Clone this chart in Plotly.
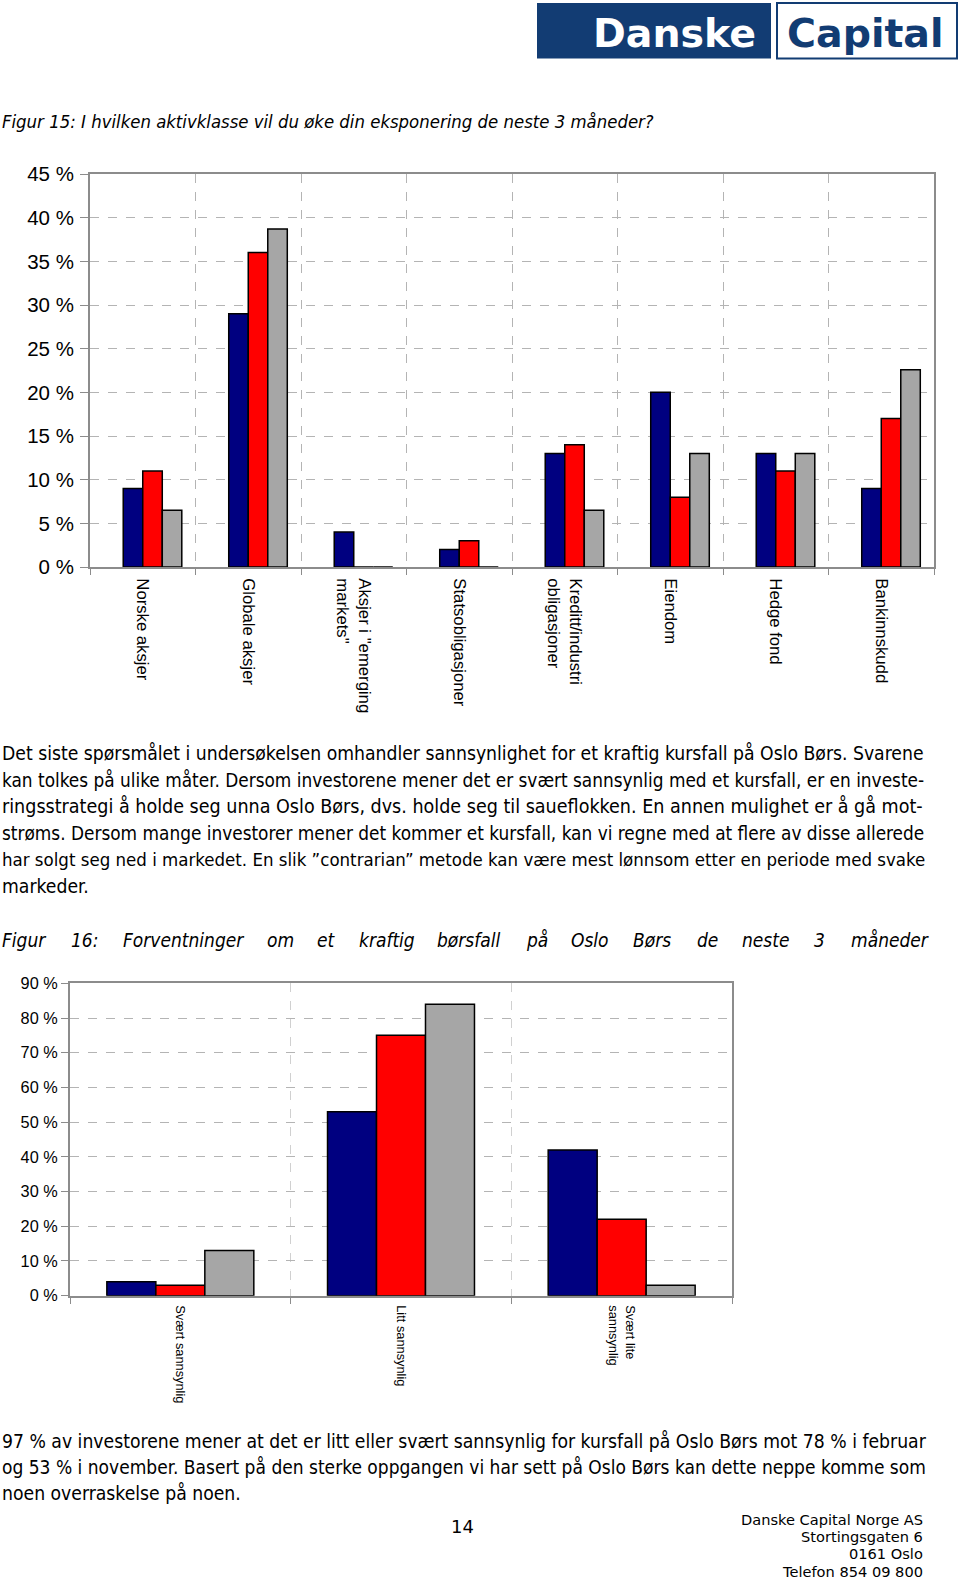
import plotly.graph_objects as go

W, H = 960, 1579

# ---------------- data ----------------
cat1 = ["Norske aksjer", "Globale aksjer", "Aksjer i \"emerging<br>markets\"", "Statsobligasjoner",
        "Kreditt/industri<br>obligasjoner", "Eiendom", "Hedge fond", "Bankinnskudd"]
c1_blue = [9, 29, 4, 2, 13, 20, 13, 9]
c1_red = [11, 36, 0, 3, 14, 8, 11, 17]
c1_grey = [6.5, 38.7, 0, 0, 6.5, 13, 13, 22.6]
y1_ticks = [0, 5, 10, 15, 20, 25, 30, 35, 40, 45]

cat2 = ["Svært sannsynlig", "Litt sannsynlig", "Svært lite<br>sannsynlig"]
c2_blue = [4, 53, 42]
c2_red = [3, 75, 22]
c2_grey = [13, 84, 3]
y2_ticks = [0, 10, 20, 30, 40, 50, 60, 70, 80, 90]

NAVY = "#000080"
RED = "#FF0000"
GREY = "#A6A6A6"

def py(y):
    return 1 - y / H

def px(x):
    return x / W

fig = go.Figure()

w1 = 0.185
for vals, col, off in [(c1_blue, NAVY, -w1), (c1_red, RED, 0), (c1_grey, GREY, w1)]:
    fig.add_trace(go.Bar(x=cat1, y=vals, marker=dict(color=col, line=dict(color="black", width=1.5)),
                         width=w1, offset=off, xaxis="x", yaxis="y", showlegend=False))

w2 = 0.222
for vals, col, off in [(c2_blue, NAVY, -1.5 * w2), (c2_red, RED, -0.5 * w2), (c2_grey, GREY, 0.5 * w2)]:
    fig.add_trace(go.Bar(x=cat2, y=vals, marker=dict(color=col, line=dict(color="black", width=1.5)),
                         width=w2, offset=off, xaxis="x2", yaxis="y2", showlegend=False))

axis_common = dict(showline=True, linecolor="#8C8C8C", linewidth=2, mirror=True,
                   gridcolor="#B4B4B4", griddash="dash", gridwidth=1, zeroline=False,
                   automargin=False)

fig.update_layout(
    template="none",
    width=W, height=H, autosize=False,
    margin=dict(l=0, r=0, t=0, b=0, pad=0),
    paper_bgcolor="white", plot_bgcolor="white",
    showlegend=False,
    font=dict(family="Liberation Sans, Arial, sans-serif", color="black"),
    xaxis=dict(domain=[px(90), px(934)], anchor="y", type="category", tickson="boundaries",
               tickangle=90, ticks="outside", ticklen=6, tickcolor="#8C8C8C",
               ticklabelstandoff=6,
               tickfont=dict(size=16.7), showgrid=True, **axis_common),
    yaxis=dict(domain=[py(567), py(174)], anchor="x", range=[0, 45], tickvals=y1_ticks,
               ticktext=[f"{v} %" for v in y1_ticks], ticks="outside", ticklen=8,
               ticklabelstandoff=2,
               tickcolor="#8C8C8C", tickfont=dict(size=20.5), showgrid=True, **axis_common),
    xaxis2=dict(domain=[px(70), px(732)], anchor="y2", type="category", tickson="boundaries",
                tickangle=90, ticks="outside", ticklen=6, tickcolor="#8C8C8C",
                ticklabelstandoff=5,
                tickfont=dict(size=12.8), showgrid=True, **axis_common),
    yaxis2=dict(domain=[py(1295.7), py(983.3)], anchor="x2", range=[0, 90], tickvals=y2_ticks,
                ticktext=[f"{v} %" for v in y2_ticks], ticks="outside", ticklen=7,
                ticklabelstandoff=0,
                tickcolor="#8C8C8C", tickfont=dict(size=16.3), showgrid=True, **axis_common),
)
fig.update_layout(xaxis2_gridcolor="#D0D0D0")

# ---------------- logo ----------------
LOGO = "#123C73"
fig.add_shape(type="rect", xref="paper", yref="paper", x0=px(537), x1=px(771), y0=py(58.5), y1=py(3),
              fillcolor=LOGO, line=dict(width=0), layer="above")
fig.add_shape(type="rect", xref="paper", yref="paper", x0=px(777), x1=px(957), y0=py(58.5), y1=py(3),
              fillcolor="white", line=dict(color=LOGO, width=2), layer="above")

annos = []
BODY = "Liberation Sans Narrow, DejaVu Sans Condensed, Arial Narrow, sans-serif"
def txt(x, y, s, size, color="black", xanchor="left", family=BODY, italic=False, weight=None):
    f = dict(size=size, color=color, family=family)
    if italic:
        f["style"] = "italic"
    if weight:
        f["weight"] = weight
    annos.append(dict(x=px(x), y=py(y), xref="paper", yref="paper", text=s, showarrow=False,
                      xanchor=xanchor, yanchor="middle", font=f))

txt(758, 33, "Danske", 39.5, "white", "right", family="DejaVu Sans, sans-serif", weight="bold")
txt(785, 33, "Capital", 39.5, LOGO, "left", family="DejaVu Sans, sans-serif", weight="bold")

# ---------------- titles & text ----------------
txt(0, 122, "Figur 15: I hvilken aktivklasse vil du øke din eksponering de neste 3 måneder?", 18.4, italic=True)

par1 = ["Det siste spørsmålet i undersøkelsen omhandler sannsynlighet for et kraftig kursfall på Oslo Børs. Svarene",
        "kan tolkes på ulike måter. Dersom investorene mener det er svært sannsynlig med et kursfall, er en investe-",
        "ringsstrategi å holde seg unna Oslo Børs, dvs. holde seg til saueflokken. En annen mulighet er å gå mot-",
        "strøms. Dersom mange investorer mener det kommer et kursfall, kan vi regne med at flere av disse allerede",
        "har solgt seg ned i markedet. En slik ”contrarian” metode kan være mest lønnsom etter en periode med svake",
        "markeder."]
par1_size = [19.2, 18.85, 19.55, 18.85, 18.5, 19.2]
for i, (line, sz) in enumerate(zip(par1, par1_size)):
    txt(0, 754 + i * 26.4, line, sz)

fig16_words = ["Figur", "16:", "Forventninger", "om", "et", "kraftig", "børsfall", "på", "Oslo", "Børs", "de", "neste", "3", "måneder"]
fig16_x = [0, 69, 121, 265, 315, 357, 435, 524, 569, 631, 695, 740, 812, 849]
for wd, xx in zip(fig16_words, fig16_x):
    txt(xx, 940, wd, 19, italic=True)

par2 = ["97 % av investorene mener at det er litt eller svært sannsynlig for kursfall på Oslo Børs mot 78 % i februar",
        "og 53 % i november. Basert på den sterke oppgangen vi har sett på Oslo Børs kan dette neppe komme som",
        "noen overraskelse på noen."]
par2_size = [19.2, 19.0, 19.2]
for i, (line, sz) in enumerate(zip(par2, par2_size)):
    txt(0, 1441 + i * 26.4, line, sz)

txt(462, 1526, "14", 18, xanchor="center", family="DejaVu Sans, sans-serif")
footer = ["Danske Capital Norge AS", "Stortingsgaten 6", "0161 Oslo", "Telefon 854 09 800"]
for i, line in enumerate(footer):
    txt(925, 1519 + i * 17.4, line, 14.6, xanchor="right", family="DejaVu Sans, sans-serif")

fig.update_layout(annotations=annos)
fig.write_html("out.html", config={"displayModeBar": False},
               post_script="document.body.style.margin='0';document.body.style.padding='0';")
